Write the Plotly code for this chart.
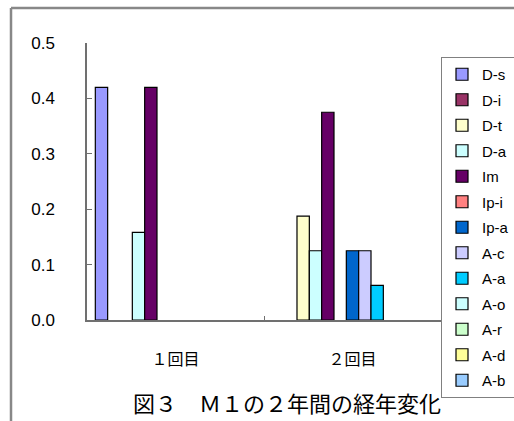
import plotly.graph_objects as go

categories = ["１回目", "２回目"]
series_names = ["D-s", "D-i", "D-t", "D-a", "Im", "Ip-i", "Ip-a",
                "A-c", "A-a", "A-o", "A-r", "A-d", "A-b"]
series_colors = ["#9999FF", "#993366", "#FFFFCC", "#CCFFFF", "#660066",
                 "#FF8080", "#0066CC", "#CCCCFF", "#00CCFF", "#CCFFFF",
                 "#CCFFCC", "#FFFF99", "#99CCFF"]
values_1 = [0.42, None, None, 0.158, 0.42, None, None, None, None, None, None, None, None]
values_2 = [None, None, 0.1875, 0.125, 0.375, None, 0.125, 0.125, 0.0625, None, None, None, None]
y_ticks = [0.0, 0.1, 0.2, 0.3, 0.4, 0.5]
y_tick_labels = ["0.0", "0.1", "0.2", "0.3", "0.4", "0.5"]
title_text = "図３　Ｍ１の２年間の経年変化"

FONT = "Liberation Sans, Arial, Noto Sans CJK JP, sans-serif"
W, H = 514, 421


def px(x):
    return x / W


def py(y):
    return (H - y) / H


fig = go.Figure()
for i, name in enumerate(series_names):
    fig.add_trace(go.Bar(
        name=name, x=categories, y=[values_1[i], values_2[i]],
        marker=dict(color=series_colors[i], line=dict(color="black", width=1.2)),
        legendgroup="g%d" % i,
    ))

fig.update_layout(
    width=W, height=H,
    margin=dict(l=0, r=0, t=0, b=0, autoexpand=False),
    paper_bgcolor="white", plot_bgcolor="white",
    barmode="group", bargap=0.094, bargroupgap=0,
    font=dict(family=FONT, size=14, color="black"),
    showlegend=True,
    legend=dict(
        x=px(441), xanchor="left", y=py(57), yanchor="top",
        bordercolor="#808080", borderwidth=1, bgcolor="white",
        font=dict(family=FONT, size=15, color="black"),
        traceorder="grouped", tracegroupgap=3,
        itemwidth=30,
    ),
    xaxis=dict(
        type="category", domain=[px(87), px(441)],
        showline=True, linecolor="#707070", linewidth=1.5,
        ticks="inside", ticklen=4, tickcolor="#707070", tickson="boundaries",
        tickfont=dict(family="Noto Sans CJK JP", size=16), ticklabelstandoff=24,
        showgrid=False, zeroline=False, fixedrange=True, automargin=False,
    ),
    yaxis=dict(
        range=[0, 0.5], domain=[py(320), py(43)],
        tickvals=y_ticks, ticktext=y_tick_labels,
        showline=True, linecolor="#707070", linewidth=1.5,
        ticks="inside", ticklen=5, tickcolor="#707070",
        tickfont=dict(size=17), ticklabelstandoff=27,
        showgrid=False, zeroline=False, fixedrange=True, automargin=False,
    ),
    annotations=[dict(
        text=title_text, xref="paper", yref="paper",
        x=px(287), y=py(402), xanchor="center", yanchor="middle",
        showarrow=False, font=dict(family="Noto Sans CJK JP", size=22, color="black"),
    )],
    shapes=[
        dict(type="line", xref="paper", yref="paper",
             x0=px(11), x1=px(11), y0=py(8), y1=py(430),
             line=dict(color="#888888", width=2.5)),
        dict(type="line", xref="paper", yref="paper",
             x0=px(11), x1=px(520), y0=py(8), y1=py(8),
             line=dict(color="#888888", width=2.5)),
    ],
)

fig.write_html("out.html")
